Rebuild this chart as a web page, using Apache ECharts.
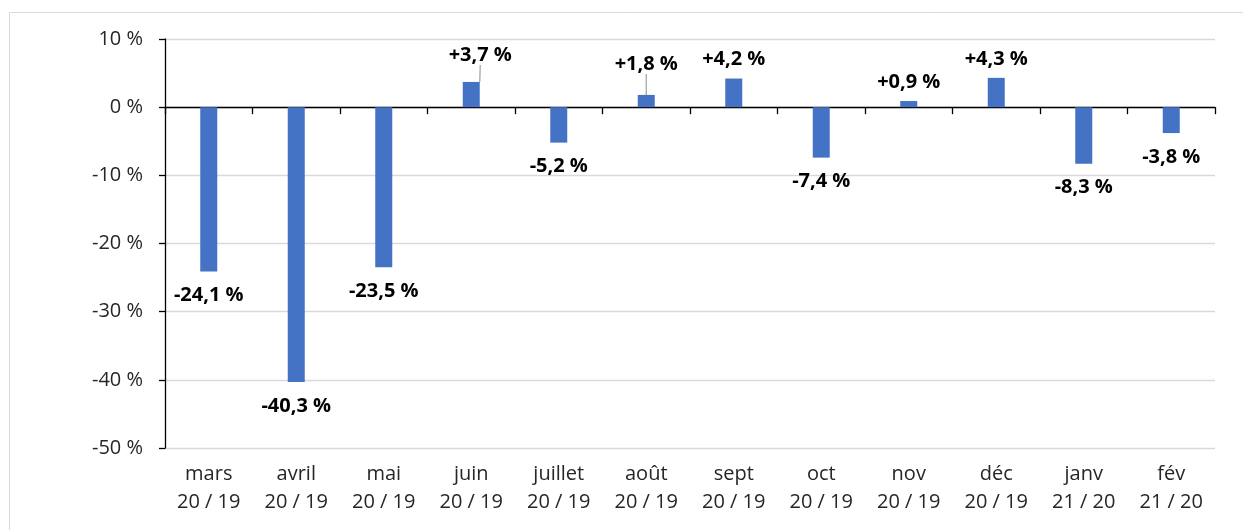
<!DOCTYPE html>
<html>
<head>
<meta charset="utf-8">
<script src="https://cdn.jsdelivr.net/npm/echarts@6/dist/echarts.min.js"></script>
<style>html,body{margin:0;padding:0;background:#fff;}#c{width:1243px;height:530px;}</style>
</head>
<body>
<div id="c"></div>
<script>
const months = ['mars','avril','mai','juin','juillet','août','sept','oct','nov','déc','janv','fév'];
const periods = ['20 / 19','20 / 19','20 / 19','20 / 19','20 / 19','20 / 19','20 / 19','20 / 19','20 / 19','20 / 19','21 / 20','21 / 20'];
const values = [-24.1,-40.3,-23.5,3.7,-5.2,1.8,4.2,-7.4,0.9,4.3,-8.3,-3.8];
const yTicks = [-50,-40,-30,-20,-10,0,10];
const leaderIdx = [3,5];

const categories = months.map((m,i)=>m+'\n'+periods[i]);
const fmt = v => (v>0?'+':'') + v.toFixed(1).replace('.',',') + ' %';
const FONT = '"Open Sans", sans-serif';

const seriesData = values.map((v,i)=>({
  value:v,
  label:{distance: v<0 ? 14 : 9},
  labelLine:{show:leaderIdx.indexOf(i)>=0}
}));

const chart = echarts.init(document.getElementById('c'), null, {renderer:'canvas'});
chart.setOption({
  backgroundColor:'#fff',
  animation:false,
  graphic:[{type:'rect', shape:{x:9.5,y:12.5,width:1300,height:600}, style:{fill:'none',stroke:'#d9d9d9',lineWidth:1}, silent:true}],
  grid:{left:165,right:28,top:39,bottom:82,containLabel:false},
  xAxis:[{
    type:'category', data:categories, position:'bottom',
    axisLine:{show:false,onZero:false}, axisTick:{show:false},
    axisLabel:{color:'#262626',fontFamily:FONT,fontSize:20,lineHeight:28,margin:12,interval:0},
    splitLine:{show:false}
  },{
    type:'category', data:categories, position:'bottom',
    axisLine:{show:true,onZero:true,lineStyle:{color:'#000',width:1.3}},
    axisTick:{show:true,inside:false,length:7,alignWithLabel:false,lineStyle:{color:'#000',width:1.3}},
    axisLabel:{show:false}, splitLine:{show:false}
  }],
  yAxis:{
    type:'value', min:yTicks[0], max:yTicks[yTicks.length-1], interval:10,
    axisLine:{show:true,lineStyle:{color:'#000',width:1.3}},
    axisTick:{show:true,length:6,lineStyle:{color:'#000',width:1.3}},
    axisLabel:{color:'#262626',fontFamily:FONT,fontSize:20,margin:22,formatter:v=>v+' %'},
    splitLine:{show:true,lineStyle:{color:'#d9d9d9',width:1.3}}
  },
  series:[{
    type:'bar', xAxisIndex:0, data:seriesData, barWidth:17,
    itemStyle:{color:'#4472c4'},
    label:{show:true,fontFamily:FONT,fontSize:20,fontWeight:'bold',color:'#000',
      position:'outside',
      formatter:p=>fmt(p.value)},
    labelLine:{show:false,lineStyle:{color:'#a6a6a6',width:1.3}},
    labelLayout:function(p){
      if(p.dataIndex===3) return {dx:9,dy:-8};
      if(p.dataIndex===5) return {dx:0,dy:-12};
      return {};
    }
  }]
});
</script>
</body>
</html>
